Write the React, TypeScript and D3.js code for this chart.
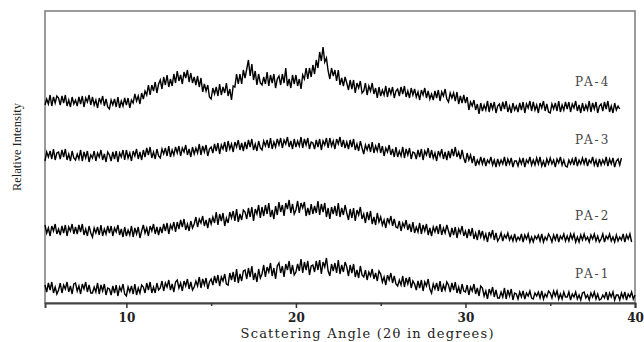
import React, { useEffect, useRef } from 'react';
import * as d3 from 'd3';

// XRD scans, 2θ from 5.2° in 0.1° steps, relative intensity (stacked, a.u.)
const angleStart = 5.2;
const angleStep = 0.1;

const pa1 = [
  17,10,19,12,20,9,15,8,
  12,19,9,17,13,20,10,16,8,18,
  19,11,16,8,18,13,20,10,17,9,
  9,15,10,19,8,17,11,18,7,14,
  13,7,16,9,17,6,15,11,18,8,
  6,15,10,16,8,18,7,14,9,17,
  15,9,19,12,20,9,15,9,19,12,
  14,21,11,19,15,22,12,18,10,20,
  22,14,19,11,21,16,23,13,20,12,
  15,21,16,25,14,23,17,24,13,20,
  23,17,26,19,27,16,25,21,28,18,
  17,29,22,30,20,33,19,28,21,31,
  32,23,34,25,36,22,29,20,33,24,
  28,37,25,35,30,39,26,34,23,36,
  39,29,36,25,38,32,41,28,37,27,
  30,38,31,43,29,40,32,41,27,36,
  37,30,41,32,42,28,40,35,44,31,
  26,38,31,39,29,42,28,37,30,40,
  35,26,37,29,38,25,32,24,36,27,
  25,32,22,30,26,33,23,29,21,31,
  28,20,25,17,27,22,29,19,26,18,
  16,22,17,26,15,24,18,25,14,21,
  18,12,21,14,22,11,20,16,23,13,
  9,18,13,19,11,21,10,17,12,20,
  17,10,19,12,20,9,15,8,18,11,
  10,17,7,15,11,18,8,14,6,16,
  14,6,11,3,13,8,15,5,12,4,
  4,10,5,14,3,12,6,13,2,9,
  8,3,10,5,11,3,9,6,11,4,
  3,9,6,10,4,11,3,8,5,11,
  9,4,11,6,11,3,8,3,10,5,
  5,10,2,8,5,10,3,7,2,9,
  10,4,7,2,9,5,10,3,8,2,
  3,7,4,10,2,9,5,10,2,7,
  7,2,9,4,10,2,8,5,10,3,
  7,
];

const pa2 = [
  77,69,74,66,76,71,78,68,
  73,67,76,69,77,66,75,71,78,68,
  75,68,77,70,78,67,73,66,76,69,
  65,74,69,75,67,77,66,73,68,76,
  69,76,66,74,70,77,67,73,65,75,
  66,72,67,76,65,74,68,75,64,71,
  77,69,74,66,76,71,78,68,75,67,
  75,69,78,71,79,68,77,73,80,70,
  80,73,82,75,83,72,78,71,81,74,
  78,85,75,83,79,86,76,82,74,84,
  78,85,79,90,77,88,81,89,76,84,
  79,90,84,91,81,93,80,88,82,92,
  90,83,94,85,95,81,93,88,97,84,
  95,86,97,88,99,85,92,83,96,87,
  100,90,97,86,99,93,102,89,98,88,
  92,101,89,99,94,100,86,94,87,98,
  88,96,89,101,87,98,90,99,85,94,
  83,95,88,96,86,99,85,94,87,97,
  89,82,93,84,94,81,92,87,95,83,
  88,79,90,82,91,78,85,77,89,80,
  85,77,82,74,84,79,86,76,83,75,
  74,81,71,79,75,82,72,78,70,80,
  69,75,70,79,68,77,71,78,67,74,
  66,75,70,76,68,78,67,74,69,77,
  71,65,74,67,75,64,73,69,76,66,
  71,64,73,66,74,63,69,62,72,65,
  71,63,68,60,70,65,72,62,69,61,
  64,69,61,67,64,69,62,66,61,68,
  61,65,62,68,60,67,63,68,60,65,
  60,66,63,67,61,68,60,65,62,68,
  65,60,67,62,68,60,66,63,68,61,
  66,61,68,63,68,60,65,60,67,62,
  68,62,65,60,67,63,68,61,66,60,
  63,68,60,66,63,68,61,65,60,67,
  61,65,62,68,60,67,63,68,60,
];

const pa3 = [
  141,150,145,151,143,153,142,149,
  150,143,152,145,153,142,148,141,151,144,
  142,148,143,152,141,150,144,151,140,147,
  144,151,141,149,145,152,142,148,140,150,
  147,141,150,143,151,140,149,145,152,142,
  152,144,149,141,151,146,153,143,150,142,
  152,145,154,147,155,144,150,143,153,146,
  144,153,148,154,146,156,145,152,147,155,
  149,156,146,154,150,157,147,153,145,155,
  148,154,149,158,147,156,150,157,146,153,
  155,149,158,151,159,148,157,153,160,150,
  161,153,158,150,160,155,162,152,159,151,
  160,153,162,155,163,152,158,151,161,154,
  152,161,156,162,154,164,153,160,155,163,
  157,164,154,162,158,165,155,161,153,163,
  155,161,156,165,154,163,157,164,153,160,
  159,153,162,155,163,152,161,157,164,154,
  164,156,161,153,163,158,165,155,162,154,
  160,153,162,155,163,152,158,151,161,154,
  148,157,152,158,150,160,149,156,151,159,
  149,156,146,154,150,157,147,153,145,155,
  145,151,146,155,144,153,147,154,143,150,
  149,143,152,145,153,142,151,147,154,144,
  152,144,149,141,151,146,153,143,150,142,
  151,144,153,146,155,145,150,143,152,144,
  139,149,142,147,139,146,136,142,138,145,
  138,144,136,142,139,145,137,142,135,143,
  137,142,138,145,136,143,138,144,135,141,
  141,136,143,138,144,135,142,139,145,137,
  142,137,144,138,145,136,141,135,143,138,
  144,138,142,135,143,139,145,137,142,136,
  135,142,138,143,137,145,136,142,138,144,
  138,144,136,142,139,145,137,142,135,143,
  137,142,138,145,136,143,138,144,135,141,
  143,137,144,
];

const pa4 = [
  197,203,198,207,196,205,199,206,
  204,197,206,199,207,196,202,195,205,198,
  202,196,205,198,206,195,204,200,207,197,
  205,197,202,194,204,199,206,196,203,195,
  193,202,197,203,195,205,194,201,196,204,
  197,204,194,202,199,208,201,206,198,209,
  203,211,207,217,207,217,211,220,209,218,
  222,213,225,217,227,215,223,216,228,219,
  231,221,227,218,230,224,232,220,229,219,
  225,217,226,215,224,210,218,211,217,205,
  203,214,208,215,206,218,207,215,209,219,
  206,213,202,216,215,228,218,228,218,232,
  224,233,242,226,238,222,231,217,228,219,
  217,225,218,230,216,227,219,228,214,223,
  226,217,228,219,234,216,223,214,227,218,
  227,216,223,213,227,223,234,223,234,225,
  237,228,242,234,250,241,255,240,244,231,
  223,234,226,232,221,232,217,224,216,225,
  219,212,222,213,222,209,219,214,221,209,
  211,219,207,216,211,219,208,214,204,215,
  206,212,207,216,205,214,208,215,204,211,
  213,206,215,208,216,205,211,204,214,207,
  213,205,210,202,212,207,214,204,211,203,
  208,202,211,204,212,201,210,206,213,203,
  200,209,204,209,201,210,198,206,199,207,
  199,205,192,200,196,202,192,198,188,199,
  191,197,192,201,190,199,193,200,189,196,
  198,191,200,193,201,190,196,189,199,192,
  196,190,199,192,200,189,198,194,201,191,
  200,192,197,189,199,194,201,191,198,190,
  189,198,193,199,191,201,190,197,192,200,
  193,200,190,198,194,201,191,197,189,199,
  191,197,192,201,190,199,193,200,189,196,
  198,191,200,193,201,190,196,189,199,192,
  196,193,
];

const sampleNames = ['PA-1', 'PA-2', 'PA-3', 'PA-4'];
const scans = [pa1, pa2, pa3, pa4];
const labelAngle = 37.5;
const labelLevels = [24, 82, 158, 216];
const majorTicks = [10, 20, 30, 40];
const minorTicks = [15, 25, 35];

function App() {
  const svgRef = useRef<SVGSVGElement>(null);

  useEffect(() => {
    const width = 644;
    const height = 342;
    const left = 45, right = 635, top = 11, bottom = 303;

    d3.select(svgRef.current).selectAll('*').remove();
    const svg = d3.select(svgRef.current)
      .attr('width', width)
      .attr('height', height);

    svg.append('rect').attr('width', width).attr('height', height).attr('fill', '#fff');

    const x = d3.scaleLinear().domain([5.2, 40]).range([left, right]);
    const y = d3.scaleLinear().domain([0, 291]).range([bottom - 1, top]);

    // frame
    svg.append('rect')
      .attr('x', left).attr('y', top)
      .attr('width', right - left).attr('height', bottom - top)
      .attr('fill', 'none')
      .attr('stroke', '#7a7a7a')
      .attr('stroke-width', 1.5);

    const line = d3.line<number>()
      .x((_, i) => x(angleStart + i * angleStep))
      .y(d => y(d));

    svg.append('g')
      .selectAll('path')
      .data(scans)
      .join('path')
      .attr('d', d => line(d))
      .attr('fill', 'none')
      .attr('stroke', '#000')
      .attr('stroke-width', 1.4)
      .attr('stroke-linejoin', 'miter');

    // x axis
    const xAxis = svg.append('g')
      .attr('transform', `translate(0,${bottom})`)
      .call(d3.axisBottom(x).tickValues(majorTicks).tickSize(5).tickPadding(5).tickFormat(d3.format('d')));
    xAxis.select('.domain').attr('stroke', '#444').attr('stroke-width', 2);
    xAxis.selectAll('.tick line').attr('stroke', '#333').attr('stroke-width', 1.5);
    xAxis.selectAll('.tick text')
      .attr('font-family', '"DejaVu Serif", serif')
      .attr('font-weight', 'bold')
      .attr('font-size', 12)
      .attr('fill', '#222');

    const minor = svg.append('g')
      .attr('transform', `translate(0,${bottom})`)
      .call(d3.axisBottom(x).tickValues(minorTicks).tickSize(3).tickFormat(() => ''));
    minor.select('.domain').remove();
    minor.selectAll('.tick line').attr('stroke', '#333').attr('stroke-width', 1.5);

    // series labels
    svg.append('g')
      .selectAll('text')
      .data(sampleNames)
      .join('text')
      .attr('x', x(labelAngle))
      .attr('y', (_, i) => y(labelLevels[i]))
      .attr('text-anchor', 'middle')
      .attr('font-family', '"DejaVu Serif", serif')
      .attr('font-size', 12)
      .attr('letter-spacing', 2)
      .attr('fill', '#444')
      .text(d => d);

    // axis titles
    svg.append('text')
      .attr('x', 367)
      .attr('y', 338)
      .attr('text-anchor', 'middle')
      .attr('font-family', '"DejaVu Serif", serif')
      .attr('font-size', 13)
      .attr('textLength', 253)
      .attr('lengthAdjust', 'spacing')
      .attr('fill', '#222')
      .text('Scattering Angle (2θ in degrees)');

    svg.append('text')
      .attr('transform', `translate(21,147) rotate(-90)`)
      .attr('text-anchor', 'middle')
      .attr('font-family', '"Liberation Serif", serif')
      .attr('font-size', 13)
      .attr('textLength', 88)
      .attr('lengthAdjust', 'spacingAndGlyphs')
      .attr('fill', '#222')
      .text('Relative Intensity');
  }, []);

  return <svg ref={svgRef} style={{ position: 'absolute', left: 0, top: 0 }}></svg>;
}

export default App;
